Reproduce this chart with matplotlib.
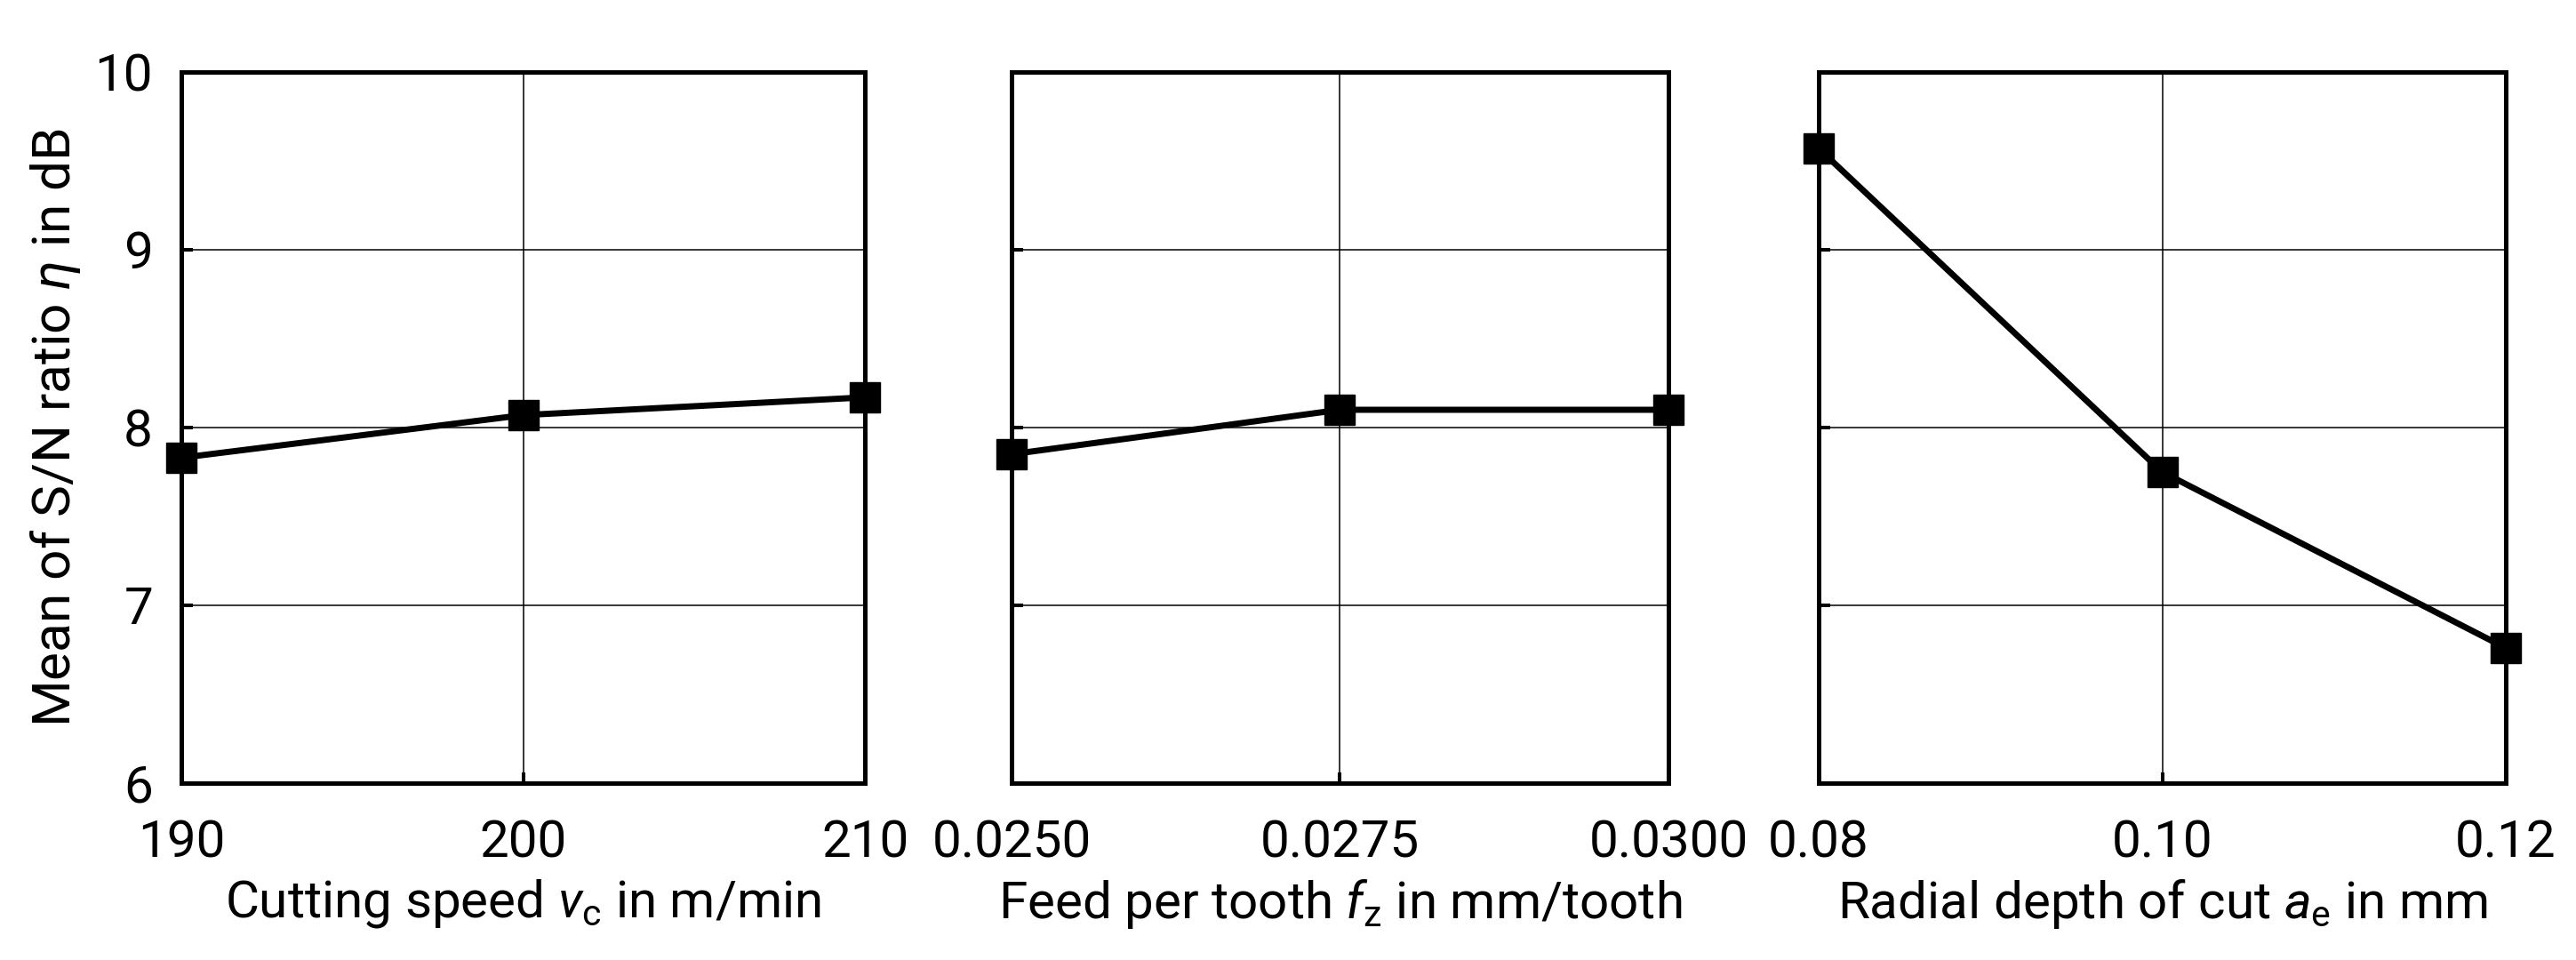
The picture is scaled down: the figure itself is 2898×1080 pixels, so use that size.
import matplotlib
matplotlib.use('Agg')
import matplotlib.pyplot as plt

plt.rcParams['font.family'] = ['Roboto', 'DejaVu Sans']
plt.rcParams['mathtext.fontset'] = 'custom'
plt.rcParams['mathtext.rm'] = 'Roboto'
plt.rcParams['mathtext.it'] = 'Roboto:italic'

# factor levels and mean S/N ratios
vc_levels = [190, 200, 210]
vc_sn = [7.83, 8.07, 8.17]
fz_levels = [0.0250, 0.0275, 0.0300]
fz_sn = [7.85, 8.10, 8.10]
ae_levels = [0.08, 0.10, 0.12]
ae_sn = [9.57, 7.75, 6.76]

vc_ticks = ['190', '200', '210']
fz_ticks = ['0.0250', '0.0275', '0.0300']
ae_ticks = ['0.08', '0.10', '0.12']
y_ticks = [6, 7, 8, 9, 10]

xlabels = [r'Cutting speed $\mathit{v}_\mathrm{c}$ in m/min',
           r'Feed per tooth $\mathit{f}_\mathrm{z}$ in mm/tooth',
           r'Radial depth of cut $\mathit{a}_\mathrm{e}$ in mm']
ylabel = r'Mean of S/N ratio $\mathit{\eta}$ in dB'

W, H = 2898, 1080
fig = plt.figure(figsize=(W / 100, H / 100), dpi=100)

# axes boxes in pixels (left, right)
boxes = [(204, 973), (1138, 1877), (2046, 2819)]
bottom = (H - 881) / H
height = 800 / H

panels = [(vc_levels, vc_sn, vc_ticks), (fz_levels, fz_sn, fz_ticks), (ae_levels, ae_sn, ae_ticks)]

for i, ((x, y, tl), (l, r)) in enumerate(zip(panels, boxes)):
    ax = fig.add_axes([l / W, bottom, (r - l) / W, height])
    ax.plot(x, y, color='black', lw=5, marker='s', ms=24, clip_on=False, zorder=5)
    ax.set_xlim(x[0], x[-1])
    ax.set_ylim(6, 10)
    ax.set_xticks(x)
    ax.set_xticklabels(tl)
    ax.set_yticks(y_ticks)
    ax.grid(True, color='black', lw=1.1)
    for s in ax.spines.values():
        s.set_linewidth(3.6)
    ax.tick_params(direction='in', length=9, width=2.9, labelsize=42, pad=29)
    ax.tick_params(axis='y', pad=23)
    ax.set_xlabel(xlabels[i], fontsize=42, labelpad=8)
    if i == 0:
        ax.set_ylabel(ylabel, fontsize=43.5, labelpad=10)
    else:
        ax.tick_params(axis='y', labelleft=False)

fig.savefig('out.png', dpi=100)
